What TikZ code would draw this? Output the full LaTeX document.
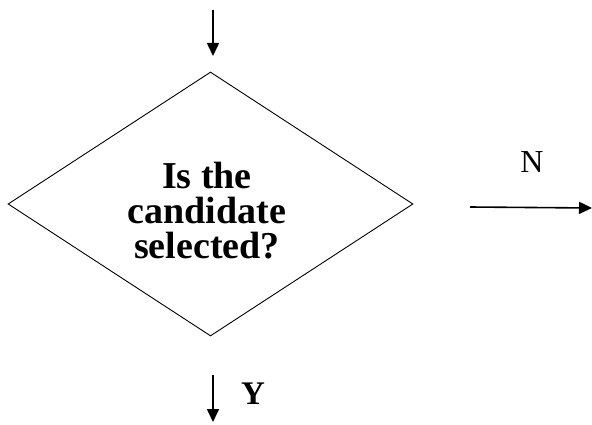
\documentclass[tikz,border=0pt]{standalone}
\usepackage{fontspec}
\setmainfont{Liberation Serif}
\usetikzlibrary{shapes.geometric,arrows.meta,positioning}

\tikzset{
  decision/.style={draw, diamond, line width=0.9pt, inner sep=0pt,
    minimum width=405pt, minimum height=264pt},
  decisiontext/.style={align=center, inner sep=0pt,
    font=\fontsize{38}{35}\selectfont\bfseries},
  flowarrow/.style={line width=1.6pt, -{Triangle[length=13pt,width=12pt]}},
  flowlabel/.style={inner sep=0pt}
}

\begin{document}
\begin{tikzpicture}[x=1pt,y=-1pt]
\useasboundingbox (0,0) rectangle (592,425);

% Decision
\node[decision] (check) at (210.5,204) {};
\node[decisiontext] (checktext) at (207,211) {Is the\\candidate\\selected?};

% Incoming arrow
\coordinate (in1) at (213,10);
\coordinate (in2) at (213,56);
\draw[flowarrow] (in1) -- (in2);

% No branch
\coordinate (no1) at (470,207);
\coordinate (no2) at (592,208);
\draw[flowarrow] (no1) -- (no2);
\node[flowlabel, font=\fontsize{32}{34}\selectfont] (nolbl) at (532,162) {N};

% Yes branch
\coordinate (yes1) at (213,375);
\coordinate (yes2) at (213,422);
\draw[flowarrow] (yes1) -- (yes2);
\node[flowlabel, font=\fontsize{33}{35}\selectfont\bfseries] (yeslbl) at (253,394) {Y};
\end{tikzpicture}
\end{document}
